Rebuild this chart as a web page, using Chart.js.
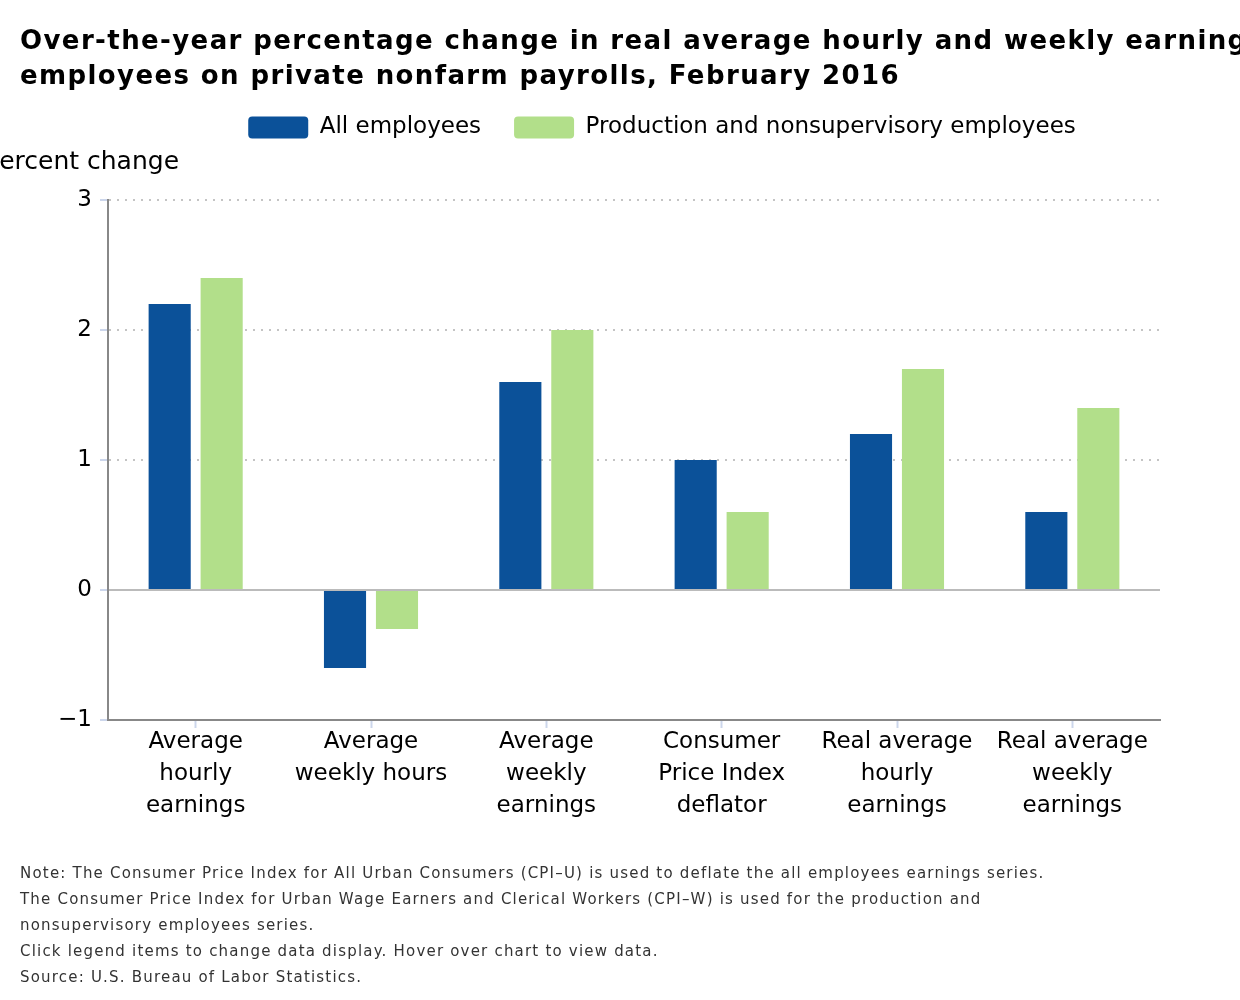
<!DOCTYPE html>
<html>
<head>
<meta charset="utf-8">
<script src="https://cdn.jsdelivr.net/npm/chart.js@4"></script>
<style>
  body { margin: 0; width: 1240px; height: 1000px; overflow: hidden; background: #fff; position: relative; font-family: "DejaVu Sans", sans-serif; }
  #wrap { position: absolute; left: 0; top: 0; width: 1240px; height: 1000px; }
  .title { position: absolute; left: 20px; top: 23px; font-size: 26px; font-weight: bold; line-height: 35px; letter-spacing: 1.4px; white-space: nowrap; color: #000; }
  .ylabel { position: absolute; left: -15px; top: 146px; font-size: 25px; line-height: 30px; white-space: nowrap; color: #000; }
  .notes { position: absolute; left: 20px; top: 860px; font-size: 15px; line-height: 26px; letter-spacing: 1.2px; color: #333; white-space: nowrap; }
</style>
</head>
<body>
<div id="wrap"><canvas id="myChart" width="1240" height="1000"></canvas></div>
<div class="title">Over-the-year percentage change in real average hourly and weekly earnings of<br>employees on private nonfarm payrolls, February 2016</div>
<div class="ylabel">Percent change</div>
<div class="notes">Note: The Consumer Price Index for All Urban Consumers (CPI&#8211;U) is used to deflate the all employees earnings series.<br>
The Consumer Price Index for Urban Wage Earners and Clerical Workers (CPI&#8211;W) is used for the production and<br>
nonsupervisory employees series.<br>
Click legend items to change data display. Hover over chart to view data.<br>
Source: U.S. Bureau of Labor Statistics.</div>
<script>
const categories = [
    ['Average', 'hourly', 'earnings'],
    ['Average', 'weekly hours'],
    ['Average', 'weekly', 'earnings'],
    ['Consumer', 'Price Index', 'deflator'],
    ['Real average', 'hourly', 'earnings'],
    ['Real average', 'weekly', 'earnings']
];
const allEmployees = [2.2, -0.6, 1.6, 1.0, 1.2, 0.6];
const productionEmployees = [2.4, -0.3, 2.0, 0.6, 1.7, 1.4];
const seriesNames = ['All employees', 'Production and nonsupervisory employees'];

const font = 'DejaVu Sans';

// move the legend to where the original one sits (right and up, above the axis label)
const legendShift = {
    id: 'legendShift',
    afterLayout: function (chart) {
        chart.legend.left += 42;
        chart.legend.right += 42;
        chart.legend.top -= 51;
        chart.legend.bottom -= 51;
    }
};

const data = {
    labels: categories,
    datasets: [{
        label: seriesNames[0],
        data: allEmployees,
        backgroundColor: '#0b5199',
        categoryPercentage: 0.593,
        barPercentage: 0.81
    }, {
        label: seriesNames[1],
        data: productionEmployees,
        backgroundColor: '#b2df8a',
        categoryPercentage: 0.593,
        barPercentage: 0.81
    }]
};

const config = {
    type: 'bar',
    data: data,
    plugins: [legendShift],
    options: {
        responsive: false,
        animation: false,
        layout: {
            padding: { left: 0, right: 0, top: 83, bottom: 170 }
        },
        plugins: {
            tooltip: { enabled: false },
            legend: {
                position: 'top',
                labels: {
                    boxWidth: 60,
                    boxHeight: 22,
                    padding: 33,
                    useBorderRadius: true,
                    borderRadius: 4,
                    color: '#000',
                    font: { family: font, size: 23 }
                }
            }
        },
        scales: {
            x: {
                grid: {
                    drawOnChartArea: false,
                    offset: false,
                    tickLength: 8,
                    tickColor: '#ccd6eb',
                    tickWidth: 2
                },
                border: { color: '#888', width: 2 },
                ticks: {
                    color: '#000',
                    padding: -2,
                    maxRotation: 0,
                    autoSkip: false,
                    font: { family: font, size: 23, lineHeight: 32 / 23 }
                },
                afterFit: function (scale) {
                    scale.height = 110;
                    scale.paddingRight = 80;
                }
            },
            y: {
                min: -1,
                max: 3,
                ticks: {
                    stepSize: 1,
                    color: '#000',
                    padding: 8,
                    font: { family: font, size: 23 },
                    callback: function (v) { return v < 0 ? '\u2212' + Math.abs(v) : String(v); }
                },
                grid: {
                    color: function (ctx) { return ctx.tick && ctx.tick.value === 0 ? '#bbb' : '#c4c4c4'; },
                    lineWidth: 2,
                    tickLength: 8,
                    tickColor: '#ccd6eb',
                    tickWidth: 2
                },
                border: {
                    color: '#888',
                    width: 2,
                    dash: function (ctx) { return ctx.tick && ctx.tick.value === 0 ? [] : [2, 6]; }
                },
                afterFit: function (scale) { scale.width = 108; scale.paddingTop = 200; }
            }
        }
    }
};

new Chart(document.getElementById('myChart'), config);
</script>
</body>
</html>
